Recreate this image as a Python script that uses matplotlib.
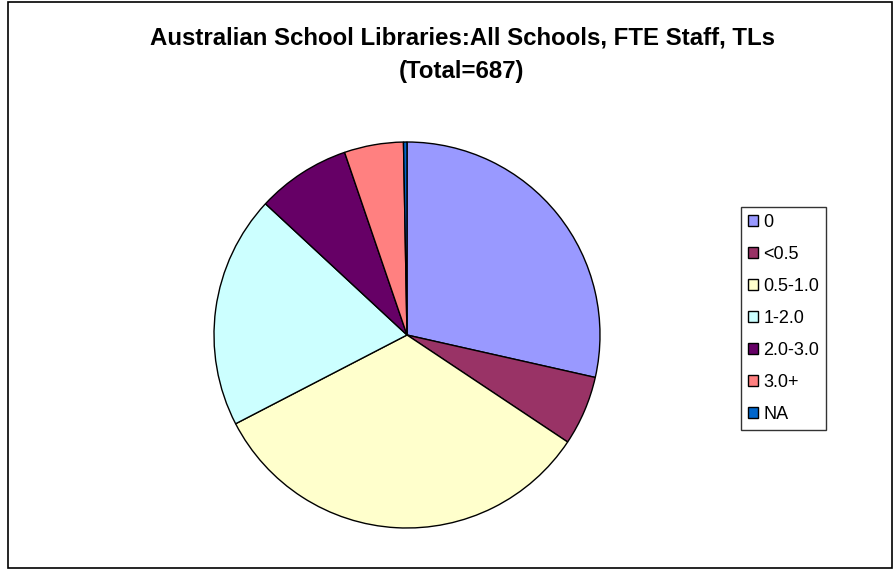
import matplotlib as mpl
mpl.use('Agg')
import matplotlib.pyplot as plt
from matplotlib.patches import Rectangle

# Data (counts of schools, total 687)
categories = ['0', '<0.5', '0.5-1.0', '1-2.0', '2.0-3.0', '3.0+', 'NA']
counts = [196, 40, 227, 134, 54, 34, 2]
colors = ['#9999FF', '#993366', '#FFFFCC', '#CCFFFF', '#660066', '#FF8080', '#0066CC']

plt.rcParams['font.family'] = ['Liberation Sans', 'DejaVu Sans']

W, H = 893, 570
fig = plt.figure(figsize=(W / 100, H / 100), dpi=100)

# outer chart frame
fig.patches.append(Rectangle((8 / W, 2 / H), (W - 9) / W, (H - 4) / H,
                             transform=fig.transFigure, fill=False,
                             edgecolor='black', linewidth=1.2))

cx, cy, r = 407, 335, 193
ax = fig.add_axes([(cx - r) / W, (H - cy - r) / H, 2 * r / W, 2 * r / H])
wedges, _ = ax.pie(counts, colors=colors, startangle=90, counterclock=False,
                   wedgeprops=dict(edgecolor='black', linewidth=1.0))
ax.set_xlim(-1, 1)
ax.set_ylim(-1, 1)
ax.set_aspect('auto')

fig.text(462 / W, 1 - 38 / H, 'Australian School Libraries:All Schools, FTE Staff, TLs',
         ha='center', va='center', fontsize=17.3, fontweight='bold')
fig.text(462 / W, 1 - 72 / H, '(Total=687)',
         ha='center', va='center', fontsize=17.3, fontweight='bold')

leg = fig.legend(wedges, categories, loc='upper left',
                 bbox_to_anchor=(741 / W, 1 - 207 / H),
                 fontsize=13, frameon=True, fancybox=False,
                 handlelength=0.55, handleheight=0.55, handletextpad=0.28,
                 labelspacing=0.83, borderpad=0.4, borderaxespad=0)
leg.get_frame().set_edgecolor('black')
leg.get_frame().set_linewidth(1.0)

fig.savefig('out.png', dpi=100)
